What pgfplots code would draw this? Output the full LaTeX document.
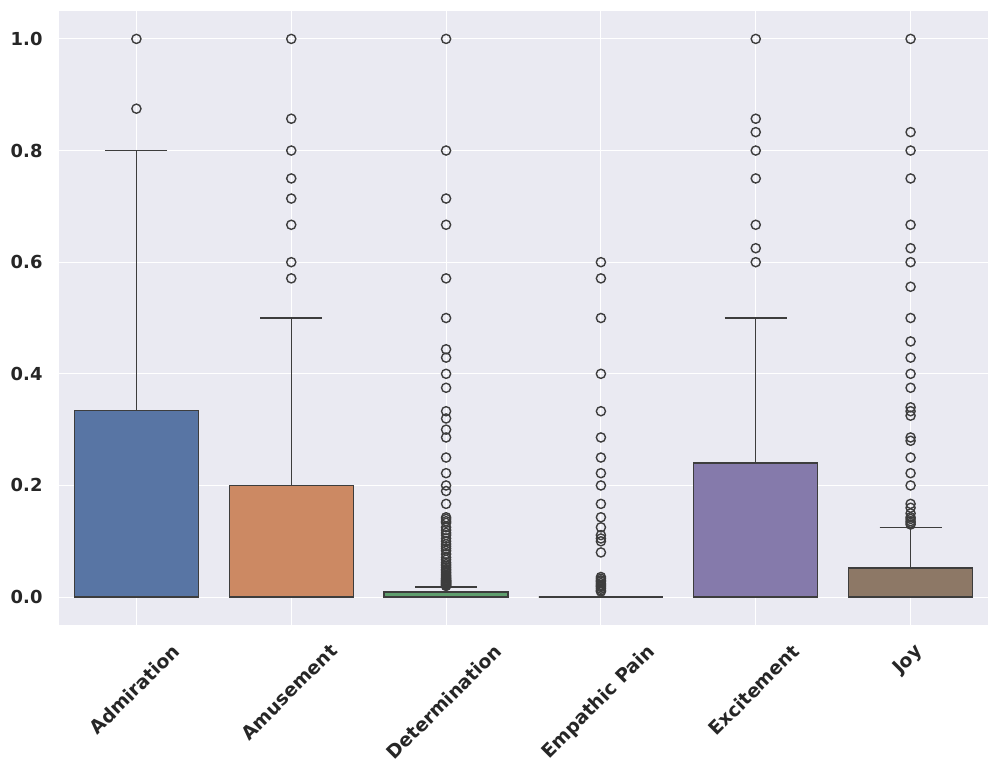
\documentclass[border=0pt]{standalone}
\usepackage{fontspec}
\setmainfont{DejaVu Sans}
\usepackage{pgfplots}
\pgfplotsset{compat=1.18}
\usepgfplotslibrary{statistics}
\definecolor{bg}{HTML}{EAEAF2}
\definecolor{edge}{HTML}{3D3D3D}
\definecolor{txt}{HTML}{262626}
\definecolor{cA}{HTML}{5875A4}
\definecolor{cB}{HTML}{CC8963}
\definecolor{cC}{HTML}{5F9E6E}
\definecolor{cD}{HTML}{857AAB}
\definecolor{cE}{HTML}{8D7866}
\begin{document}
\begin{tikzpicture}
\begin{axis}[
  scale only axis,
  width=668.88bp, height=442.08bp,
  xmin=-0.5, xmax=5.5, ymin=-0.05, ymax=1.05,
  axis background/.style={fill=bg},
  axis line style={draw=none},
  major tick length=0pt,
  tick style={draw=none},
  grid=major,
  grid style={white, line width=0.8bp},
  xtick={0,1,2,3,4,5},
  xticklabels={\rotatebox{45}{Admiration},\rotatebox{45}{Amusement},\rotatebox{45}{Determination},\rotatebox{45}{Empathic Pain},\rotatebox{45}{Excitement},\rotatebox{45}{Joy}},
  ytick={0,0.2,0.4,0.6,0.8,1.0},
  yticklabel style={/pgf/number format/fixed, /pgf/number format/fixed zerofill, /pgf/number format/precision=1, /pgf/number format/assume math mode=true, font=\fontsize{12.9bp}{15bp}\selectfont\bfseries, text=txt, inner sep=0pt, anchor=east, xshift=-11.7bp},
  xticklabel style={font=\fontsize{13.5bp}{16bp}\selectfont\bfseries, text=txt, inner sep=0pt, anchor=north, yshift=-12.5bp, xshift=-1.5bp},
  boxplot/draw direction=y,
  boxplot/box extend=0.8,
  boxplot/whisker extend=0.4,
  boxplot/every box/.style={draw=edge, line width=0.95bp},
  boxplot/every whisker/.style={draw=edge, line width=0.95bp},
  boxplot/every median/.style={draw=edge, line width=0.95bp},
  clip=false,
]
\coordinate (ll) at (rel axis cs:0,0);
\coordinate (ur) at (rel axis cs:1,1);
\addplot[fill=cA, draw=edge, boxplot prepared={draw position=0, lower whisker=0, lower quartile=0, median=0, upper quartile=0.334, upper whisker=0.8}] coordinates {};
\addplot[fill=cB, draw=edge, boxplot prepared={draw position=1, lower whisker=0, lower quartile=0, median=0, upper quartile=0.2, upper whisker=0.5}] coordinates {};
\addplot[fill=cC, draw=edge, boxplot prepared={draw position=2, lower whisker=0, lower quartile=0, median=0, upper quartile=0.009, upper whisker=0.018}] coordinates {};
\addplot[fill=cC, draw=edge, boxplot prepared={draw position=3, lower whisker=0, lower quartile=0, median=0, upper quartile=0, upper whisker=0}] coordinates {};
\addplot[fill=cD, draw=edge, boxplot prepared={draw position=4, lower whisker=0, lower quartile=0, median=0, upper quartile=0.24, upper whisker=0.5}] coordinates {};
\addplot[fill=cE, draw=edge, boxplot prepared={draw position=5, lower whisker=0, lower quartile=0, median=0, upper quartile=0.052, upper whisker=0.125}] coordinates {};
\addplot[only marks, mark=o, mark size=3.3bp, mark options={draw=edge, line width=1bp}] coordinates {
(0,1.0) (0,0.875)
(1,1.0) (1,0.857) (1,0.8) (1,0.75) (1,0.714) (1,0.667) (1,0.6) (1,0.571)
(2,1.0) (2,0.8) (2,0.714) (2,0.667) (2,0.571) (2,0.5) (2,0.444) (2,0.429) (2,0.4) (2,0.375) (2,0.333) (2,0.32) (2,0.3) (2,0.286) (2,0.25) (2,0.222) (2,0.2) (2,0.19) (2,0.167) (2,0.143) (2,0.14) (2,0.136) (2,0.133) (2,0.125) (2,0.12) (2,0.115) (2,0.111) (2,0.105) (2,0.1) (2,0.095) (2,0.091) (2,0.087) (2,0.083) (2,0.077) (2,0.071) (2,0.067) (2,0.062) (2,0.059) (2,0.056) (2,0.053) (2,0.05) (2,0.048) (2,0.045) (2,0.043) (2,0.04) (2,0.038) (2,0.036) (2,0.034) (2,0.033) (2,0.031) (2,0.03) (2,0.029) (2,0.028) (2,0.027) (2,0.026) (2,0.025) (2,0.024) (2,0.023) (2,0.022) (2,0.021) (2,0.02)
(3,0.6) (3,0.571) (3,0.5) (3,0.4) (3,0.333) (3,0.286) (3,0.25) (3,0.222) (3,0.2) (3,0.167) (3,0.143) (3,0.125) (3,0.111) (3,0.105) (3,0.1) (3,0.08) (3,0.036) (3,0.033) (3,0.03) (3,0.028) (3,0.025) (3,0.022) (3,0.02) (3,0.018) (3,0.015) (3,0.012) (3,0.01)
(4,1.0) (4,0.857) (4,0.833) (4,0.8) (4,0.75) (4,0.667) (4,0.625) (4,0.6)
(5,1.0) (5,0.833) (5,0.8) (5,0.75) (5,0.667) (5,0.625) (5,0.6) (5,0.556) (5,0.5) (5,0.458) (5,0.429) (5,0.4) (5,0.375) (5,0.34) (5,0.333) (5,0.325) (5,0.286) (5,0.28) (5,0.25) (5,0.222) (5,0.2) (5,0.167) (5,0.16) (5,0.15) (5,0.143) (5,0.14) (5,0.136) (5,0.133) (5,0.13)
};
\end{axis}
\pgfresetboundingbox
\path ([xshift=-42.48bp,yshift=-108bp]ll) rectangle ([xshift=6.48bp,yshift=7.92bp]ur);
\end{tikzpicture}
\end{document}
